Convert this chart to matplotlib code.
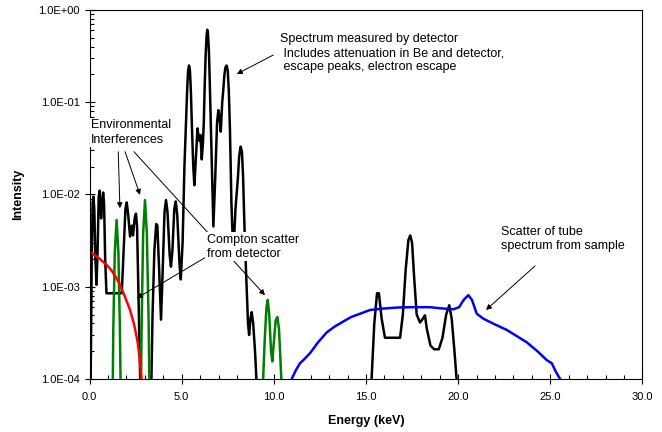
import numpy as np
import matplotlib
matplotlib.use("Agg")
import matplotlib.pyplot as plt
from matplotlib.ticker import FuncFormatter, MultipleLocator, LogLocator

plt.rcParams['font.family'] = ['Liberation Sans', 'DejaVu Sans']

# ─── DATA ───────────────────────────────────────────────────────────────────
# measured spectrum (low-energy block, then the tube-scatter region)
meas_e = [0.06, 0.12, 0.17, 0.21, 0.26, 0.32, 0.38, 0.44, 0.50, 0.55, 0.60, 0.63,
          0.68, 0.74, 0.79, 0.85, 0.92, 1.75, 1.85, 1.95, 2.02, 2.10, 2.20, 2.29,
          2.36, 2.45, 2.52, 2.58, 2.65, 2.72, 2.76, 3.35, 3.42, 3.52, 3.62, 3.68,
          3.78, 3.88, 3.97, 4.07, 4.15, 4.23, 4.35, 4.42, 4.50, 4.60, 4.68, 4.76,
          4.88, 4.95, 5.05, 5.15, 5.25, 5.30, 5.35, 5.40, 5.45, 5.50, 5.57, 5.63,
          5.69, 5.77, 5.86, 5.92, 5.97, 6.02, 6.09, 6.15, 6.20, 6.25, 6.30, 6.35,
          6.39, 6.43, 6.48, 6.53, 6.60, 6.72, 6.82, 6.92, 6.99, 7.05, 7.12, 7.20,
          7.25, 7.32, 7.38, 7.44, 7.50, 7.56, 7.62, 7.70, 7.80, 7.92, 8.05, 8.12,
          8.20, 8.27, 8.33, 8.40, 8.49, 8.60, 8.66, 8.73, 8.80, 8.88, 8.98, 9.08,
          np.nan,
          15.28, 15.45, 15.60, 15.70, 15.85, 16.03, 16.85, 17.00, 17.15, 17.30,
          17.40, 17.50, 17.62, 17.75, 17.93, 18.05, 18.20, 18.30, 18.50, 18.70,
          18.95, 19.15, 19.35, 19.52, 19.65, 19.80, 19.95]
meas_i = [8e-5, 2e-3, 8e-3, 9.5e-3, 7e-3, 2e-3, 1.05e-3, 2.5e-3, 9.5e-3, 1.1e-2, 7e-3, 5.5e-3,
          8e-3, 1.05e-2, 8e-3, 2e-3, 8.5e-4, 8.5e-4, 2.5e-3, 7e-3, 8.2e-3, 6e-3, 3.5e-3, 4.6e-3,
          3.6e-3, 5.5e-3, 6.2e-3, 4.5e-3, 1e-3, 2e-4, 8e-5, 8e-5, 5e-4, 2.5e-3, 4.8e-3, 4.6e-3,
          1.5e-3, 4.4e-4, 1.5e-3, 6.5e-3, 8.7e-3, 6.5e-3, 2.2e-3, 1.65e-3, 2.5e-3, 7e-3, 8.4e-3, 6e-3,
          1.8e-3, 1.2e-3, 3e-3, 0.02, 0.07, 0.14, 0.22, 0.25, 0.22, 0.13, 0.045, 0.02,
          0.0126, 0.025, 0.052, 0.042, 0.038, 0.044, 0.024, 0.035, 0.06, 0.15, 0.32, 0.52,
          0.61, 0.55, 0.35, 0.15, 0.04, 4.5e-3, 0.015, 0.06, 0.082, 0.07, 0.048, 0.1,
          0.13, 0.2, 0.24, 0.25, 0.22, 0.13, 0.05, 8e-3, 2.2e-3, 7e-3, 0.015, 0.026,
          0.033, 0.029, 0.016, 5e-3, 1.5e-3, 4e-4, 3e-4, 4.5e-4, 5.3e-4, 4e-4, 2e-4, 8e-5,
          np.nan,
          8e-5, 4e-4, 8.5e-4, 8.5e-4, 4.5e-4, 2.8e-4, 2.8e-4, 5e-4, 1.5e-3, 3.2e-3,
          3.6e-3, 3e-3, 1.2e-3, 5e-4, 4.1e-4, 4.4e-4, 4.9e-4, 3.5e-4, 2.3e-4, 2.1e-4,
          2.1e-4, 2.8e-4, 5e-4, 6.3e-4, 4.5e-4, 2e-4, 8e-5]

# environmental interference lines
env_e = [1.26, 1.29, 1.37, 1.47, 1.57, 1.65, 1.69, np.nan,
         2.79, 2.83, 2.91, 3.01, 3.11, 3.21, 3.25, np.nan,
         9.40, 9.50, 9.60, 9.67, 9.75, 9.85, 9.92, 10.00, 10.10, 10.19, 10.28, 10.36, 10.43]
env_i = [8e-5, 3.3e-4, 2.3e-3, 5.3e-3, 2.3e-3, 3.3e-4, 8e-5, np.nan,
         8e-5, 4e-4, 3.8e-3, 8.7e-3, 3.8e-3, 4e-4, 8e-5, np.nan,
         8e-5, 2.5e-4, 6e-4, 7.2e-4, 5e-4, 2e-4, 1.55e-4, 2.5e-4, 4.3e-4, 4.7e-4, 3.5e-4, 1.6e-4, 8e-5]

# Compton scatter continuum from the detector
compton_e = [0.15, 0.5, 0.9, 1.2, 1.45, 1.65, 1.9, 2.2, 2.42, 2.6, 2.72, 2.82]
compton_i = [2.3e-3, 2.05e-3, 1.75e-3, 1.5e-3, 1.25e-3, 1.05e-3, 8e-4, 5.6e-4, 3.9e-4, 2.6e-4, 1.7e-4, 1e-4]

# tube spectrum scattered by the sample
tube_e = [10.97, 11.2, 11.42, 11.6, 11.96, 12.4, 12.87, 13.3, 13.77, 14.2, 14.68, 15.22,
          15.94, 16.7, 17.39, 18.47, 19.2, 19.74, 20.05, 20.3, 20.55, 20.75, 21.01, 21.37,
          22.0, 22.64, 23.2, 23.72, 24.3, 24.81, 25.08, 25.3, 25.53]
tube_i = [1e-4, 1.25e-4, 1.48e-4, 1.6e-4, 1.9e-4, 2.5e-4, 3.2e-4, 3.7e-4, 4.2e-4, 4.7e-4, 5.1e-4, 5.6e-4,
          5.8e-4, 5.95e-4, 6e-4, 6e-4, 5.8e-4, 5.7e-4, 6e-4, 7.2e-4, 8.1e-4, 7.2e-4, 5.1e-4, 4.5e-4,
          3.9e-4, 3.4e-4, 2.9e-4, 2.5e-4, 2.0e-4, 1.6e-4, 1.48e-4, 1.2e-4, 1e-4]

# ─── FIGURE ─────────────────────────────────────────────────────────────────
fig = plt.figure(figsize=(6.62, 4.32), dpi=100)
ax = fig.add_axes([0.1352, 0.1227, 0.8353, 0.8542])

ax.plot(meas_e, meas_i, color='black', lw=1.8, zorder=3)
ax.plot(env_e, env_i, color='#008000', lw=1.8, zorder=4)
ax.plot(compton_e, compton_i, color='#FF0000', lw=1.8, zorder=4)
ax.plot(tube_e, tube_i, color='#0000FF', lw=1.8, zorder=4)

ax.set_yscale('log')
ax.set_xlim(0, 30)
ax.set_ylim(1e-4, 1)

ax.xaxis.set_major_locator(MultipleLocator(5))
ax.xaxis.set_minor_locator(MultipleLocator(1))
ax.xaxis.set_major_formatter(FuncFormatter(lambda v, p: f'{v:.1f}'))
ax.yaxis.set_major_locator(LogLocator(base=10, numticks=10))
ax.yaxis.set_minor_locator(LogLocator(base=10, subs=np.arange(2, 10), numticks=10))
ax.yaxis.set_major_formatter(FuncFormatter(lambda v, p: f'{v:.1E}'))
ax.yaxis.set_minor_formatter(FuncFormatter(lambda v, p: ''))

ax.tick_params(which='major', direction='inout', length=7, width=0.8, labelsize=8)
ax.tick_params(which='minor', direction='in', length=3, width=0.8)
ax.tick_params(axis='x', which='major', pad=6)
for s in ax.spines.values():
    s.set_linewidth(0.8)

ax.set_xlabel('Energy (keV)', fontsize=9, fontweight='bold', labelpad=9)
ax.set_ylabel('Intensity', fontsize=9, fontweight='bold', labelpad=10)

# ─── ANNOTATIONS ────────────────────────────────────────────────────────────
arrow = dict(arrowstyle='-|>', color='black', lw=0.7, mutation_scale=8, shrinkA=0, shrinkB=0)
box = dict(facecolor='white', edgecolor='none', pad=1.0)
tfont = dict(fontsize=9, ha='left', va='center', linespacing=1.25, zorder=6)

ax.annotate('', xy=(7.99, 0.202), xytext=(9.97, 0.325), arrowprops=arrow, zorder=5)
ax.text(10.34, 0.34, 'Spectrum measured by detector\n Includes attenuation in Be and detector,\n'
        ' escape peaks, electron escape', **tfont)

ax.annotate('', xy=(1.65, 7.1e-3), xytext=(1.56, 0.0291), arrowprops=arrow, zorder=5)
ax.annotate('', xy=(2.74, 9.9e-3), xytext=(1.93, 0.0291), arrowprops=arrow, zorder=5)
ax.annotate('', xy=(9.52, 8.1e-4), xytext=(2.41, 0.0291), arrowprops=arrow, zorder=5)
ax.text(0.09, 0.047, 'Environmental\nInterferences', bbox=box, **tfont)

ax.annotate('', xy=(2.56, 7.5e-4), xytext=(6.36, 2.12e-3), arrowprops=arrow, zorder=5)
ax.text(6.36, 2.7e-3, 'Compton scatter\nfrom detector', bbox=box, **tfont)

ax.annotate('', xy=(21.51, 5.6e-4), xytext=(24.17, 1.68e-3), arrowprops=arrow, zorder=5)
ax.text(22.31, 3.27e-3, 'Scatter of tube\nspectrum from sample', **tfont)

plt.savefig('out.png', dpi=100)
